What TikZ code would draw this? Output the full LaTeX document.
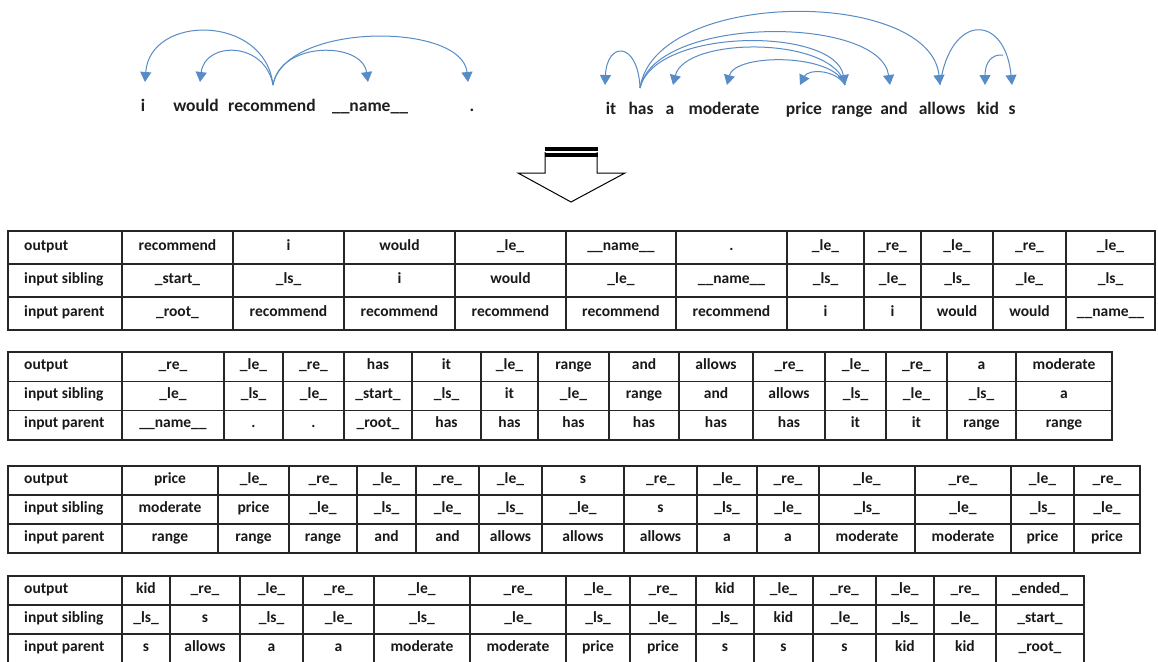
\documentclass[tikz,border=0pt]{standalone}
\usepackage{fontspec}
\setmainfont{Carlito}
\usetikzlibrary{arrows.meta}
\definecolor{arccol}{RGB}{125,165,208}
\definecolor{tipcol}{RGB}{88,140,198}
\tikzset{
  word/.style={font=\bfseries\fontsize{17.5}{20}\selectfont, anchor=base, inner sep=0pt, text=black!88},
  cell/.style={font=\bfseries\fontsize{15.5}{18}\selectfont, inner sep=0pt, text height=0.68em, text depth=0.18em, text=black!90},
  tabline/.style={draw=black!85, line width=1.3pt},
  dep/.style={draw=arccol, line width=1pt, -{Triangle[width=11pt,length=10pt,fill=tipcol]}, tipcol},
}
\newcommand\drawtab[4]{%
  \foreach \xr/\ta/\tb/\tc [count=\i, remember=\xr as \xl (initially 8)] in {#4} {
    \draw[tabline] (\xl,#2) rectangle (\xr,#2+3*#3);
    \draw[tabline] (\xl,#2+#3) -- (\xr,#2+#3) (\xl,#2+2*#3) -- (\xr,#2+2*#3);
    \ifnum\i=1
      \node[cell,anchor=west] (#1-\i-a) at (24,#2+0.5*#3) {\ta};
      \node[cell,anchor=west] (#1-\i-b) at (24,#2+1.5*#3) {\tb};
      \node[cell,anchor=west] (#1-\i-c) at (24,#2+2.5*#3) {\tc};
    \else
      \node[cell] (#1-\i-a) at ({(\xl+\xr)/2},#2+0.5*#3) {\ta};
      \node[cell] (#1-\i-b) at ({(\xl+\xr)/2},#2+1.5*#3) {\tb};
      \node[cell] (#1-\i-c) at ({(\xl+\xr)/2},#2+2.5*#3) {\tc};
    \fi
  }}
\begin{document}
\begin{tikzpicture}[x=1pt,y=-1pt]
\path[use as bounding box, fill=white] (0,0) rectangle (1158,661);

% ---------- sentence 1 ----------
\node[word] (w-i)    at (143,111) {i};
\node[word] (w-would) at (196,111) {would};
\node[word] (w-rec)  at (272,111) {recommend};
\node[word] (w-name) at (370,111) {\_\_name\_\_};
\node[word] (w-dot)  at (472,111) {.};
\coordinate (rec-o) at (273,85);
\coordinate (i-t) at (145,82);
\coordinate (would-t) at (200,82);
\coordinate (name-t) at (368,82);
\coordinate (dot-t) at (468,82);
\draw[dep] (rec-o) .. controls (265,14) and (150,14) .. (i-t);
\draw[dep] (rec-o) .. controls (265,41) and (205,41) .. (would-t);
\draw[dep] (rec-o) .. controls (280,41) and (362,41) .. (name-t);
\draw[dep] (rec-o) .. controls (285,22) and (462,22) .. (dot-t);

% ---------- sentence 2 ----------
\node[word] (w-it)   at (611,114) {it};
\node[word] (w-has)  at (641,114) {has};
\node[word] (w-a)    at (670,114) {a};
\node[word] (w-mod)  at (724,114) {moderate};
\node[word] (w-price) at (804,114) {price};
\node[word] (w-range) at (852,114) {range};
\node[word] (w-and)  at (894,114) {and};
\node[word] (w-allows) at (942,114) {allows};
\node[word] (w-kid)  at (988,114) {kid};
\node[word] (w-s)    at (1012,114) {s};
\coordinate (has-o) at (640,88);
\coordinate (range-o) at (845,85);
\coordinate (allows-o) at (940,85);
\coordinate (it-t) at (605,85);
\coordinate (a-t) at (673,85);
\coordinate (mod-t) at (727,85);
\coordinate (price-t) at (800,85);
\coordinate (range-t) at (845,85);
\coordinate (and-t) at (890,85);
\coordinate (allows-t) at (940,85);
\coordinate (kid-t) at (985,85);
\coordinate (s-t) at (1012,85);
\coordinate (s-o) at (1003,55);
\draw[dep] (has-o) .. controls (638,41) and (607,41) .. (it-t);
\draw[dep] (has-o) .. controls (655,-12) and (930,-12) .. (allows-t);
\draw[dep] (has-o) .. controls (655,15) and (880,15) .. (and-t);
\draw[dep] (has-o) .. controls (655,27) and (835,27) .. (range-t);
\draw[dep] (range-o) .. controls (835,36) and (685,36) .. (a-t);
\draw[dep] (range-o) .. controls (835,53) and (735,53) .. (mod-t);
\draw[dep] (range-o) .. controls (835,69) and (808,69) .. (price-t);
\draw[dep] (allows-o) .. controls (950,13) and (1005,13) .. (s-t);
\draw[dep] (s-o) .. controls (992,54) and (985,62) .. (kid-t);

% ---------- big arrow ----------
\draw[line width=1pt, fill=white, line join=miter]
  (545,152) -- (545,173) -- (518,173) -- (571,202) -- (625,173) -- (597,173) -- (597,152);
\fill[black] (544.5,146.7) rectangle (597.5,150.7);
\fill[black] (544.5,152.7) rectangle (597.5,156.7);

% ---------- tables ----------
\drawtab{ta}{231}{33}{122/output/input sibling/input parent,
233/recommend/\_start\_/\_root\_,
344/i/\_ls\_/recommend,
455/would/i/recommend,
566/\_le\_/would/recommend,
676/\_\_name\_\_/\_le\_/recommend,
787/./\_\_name\_\_/recommend,
864/\_le\_/\_ls\_/i,
921/\_re\_/\_le\_/i,
993/\_le\_/\_ls\_/would,
1066/\_re\_/\_le\_/would,
1155/\_le\_/\_ls\_/\_\_name\_\_}

\drawtab{tb}{352}{29.3}{122/output/input sibling/input parent,
224/\_re\_/\_le\_/\_\_name\_\_,
283/\_le\_/\_ls\_/.,
344/\_re\_/\_le\_/.,
412/has/\_start\_/\_root\_,
481/it/\_ls\_/has,
538/\_le\_/it/has,
609/range/\_le\_/has,
679/and/range/has,
753/allows/and/has,
825/\_re\_/allows/has,
886/\_le\_/\_ls\_/it,
947/\_re\_/\_le\_/it,
1016/a/\_ls\_/range,
1112/moderate/a/range}

\drawtab{tc}{466}{29}{122/output/input sibling/input parent,
218/price/moderate/range,
289/\_le\_/price/range,
357/\_re\_/\_le\_/range,
416/\_le\_/\_ls\_/and,
479/\_re\_/\_le\_/and,
542/\_le\_/\_ls\_/allows,
624/s/\_le\_/allows,
697/\_re\_/s/allows,
757/\_le\_/\_ls\_/a,
819/\_re\_/\_le\_/a,
915/\_le\_/\_ls\_/moderate,
1011/\_re\_/\_le\_/moderate,
1074/\_le\_/\_ls\_/price,
1140/\_re\_/\_le\_/price}

\drawtab{td}{576}{29}{122/output/input sibling/input parent,
170/kid/\_ls\_/s,
240/\_re\_/s/allows,
303/\_le\_/\_ls\_/a,
374/\_re\_/\_le\_/a,
470/\_le\_/\_ls\_/moderate,
566/\_re\_/\_le\_/moderate,
630/\_le\_/\_ls\_/price,
696/\_re\_/\_le\_/price,
754/kid/\_ls\_/s,
813/\_le\_/kid/s,
876/\_re\_/\_le\_/s,
934/\_le\_/\_ls\_/kid,
996/\_re\_/\_le\_/kid,
1084/\_ended\_/\_start\_/\_root\_}
\end{tikzpicture}
\end{document}
